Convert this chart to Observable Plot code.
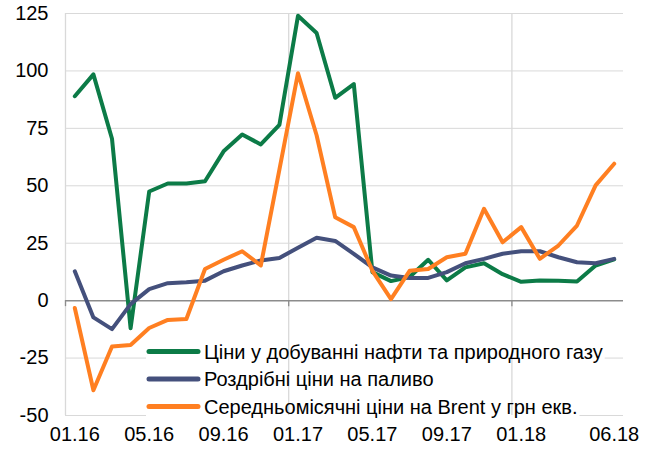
<!DOCTYPE html>
<html><head><meta charset="utf-8">
<script src="https://cdn.jsdelivr.net/npm/d3@7"></script>
<script src="https://cdn.jsdelivr.net/npm/@observablehq/plot@0.6"></script>
<style>
body{margin:0;background:#fff}
#chart{width:652px;height:450px}
</style>
</head><body><div id="chart"></div>
<script>
const months = ["01.16","02.16","03.16","04.16","05.16","06.16","07.16","08.16","09.16","10.16","11.16","12.16",
                "01.17","02.17","03.17","04.17","05.17","06.17","07.17","08.17","09.17","10.17","11.17","12.17",
                "01.18","02.18","03.18","04.18","05.18","06.18"];
const tickLabels = ["01.16","05.16","09.16","01.17","05.17","09.17","01.18","06.18"];
const yearStarts = ["01.16","01.17","01.18"];
const yTicks = [-50,-25,0,25,50,75,100,125];
const seriesNames = ["Ціни у добуванні нафти та природного газу","Роздрібні ціни на паливо","Середньомісячні ціни на Brent у грн екв."];
const gasPrices   = [89, 98.5, 70.5, -12, 47.5, 51, 51, 52, 65, 72.3, 68, 76.5, 124, 116.5, 88.3, 94.3, 12.4, 8.5, 10.3, 17.8, 8.8, 14.5, 16.3, 11.5, 8.2, 8.8, 8.7, 8.3, 15.3, 18];
const fuelPrices  = [12.8, -7.3, -12.4, -1.5, 5, 7.6, 8, 8.7, 12.8, 15.3, 17.5, 18.6, 23, 27.4, 26, 20.4, 14.5, 10.9, 9.9, 9.9, 12.4, 16.3, 18.2, 20.4, 21.5, 21.5, 18.9, 16.7, 16.3, 18.2];
const brentPrices = [-3.2, -39, -20, -19.3, -11.9, -8.4, -8, 13.8, 17.8, 21.5, 15.3, 57, 99, 72, 36.3, 32, 13, 0.7, 13, 13.8, 18.9, 20.4, 40, 25.4, 32, 18.2, 24, 32.7, 50.2, 59.6];
const colors = ["#0c7b47","#44507c","#ff7f21"];

const seriesValues = [gasPrices, fuelPrices, brentPrices];
const data = [];
seriesValues.forEach((vals, s) => vals.forEach((v, i) => data.push({i, name: seriesNames[s], value: v})));

const FONT = "Arial, 'Liberation Sans', sans-serif";
const FS = 20;
const legendRows = [351.5, 379, 406.5];
const legendX0 = 149, legendX1 = 198, legendTextX = 204;

function textWidth(t) {
  const c = document.createElement("canvas").getContext("2d");
  c.font = `${FS}px ${FONT}`;
  return c.measureText(t).width;
}

function legendBg() {
  const g = d3.create("svg:g");
  seriesNames.forEach((n, k) => {
    g.append("rect").attr("x", legendX0 - 3).attr("y", legendRows[k] - 13)
      .attr("width", legendTextX + textWidth(n) - legendX0 + 5).attr("height", 26).attr("fill", "white");
  });
  return g.node();
}
function legendFg() {
  const g = d3.create("svg:g");
  seriesNames.forEach((n, k) => {
    g.append("line").attr("x1", legendX0).attr("x2", legendX1).attr("y1", legendRows[k]).attr("y2", legendRows[k])
      .attr("stroke", colors[k]).attr("stroke-width", 5).attr("stroke-linecap", "round");
    g.append("text").attr("x", legendTextX).attr("y", legendRows[k]).attr("dy", "0.35em")
      .attr("text-anchor", "start")
      .attr("font-size", FS).attr("font-family", FONT).attr("fill", "#000").text(n);
  });
  return g.node();
}

const gridX = yearStarts.map(m => months.indexOf(m) - 0.5);

const chart = Plot.plot({
  width: 652, height: 450,
  marginLeft: 65, marginRight: 29, marginTop: 13, marginBottom: 35,
  style: {fontSize: FS + "px", fontFamily: FONT, color: "#000", background: "#fff"},
  x: {domain: [-0.5, months.length - 0.5], ticks: tickLabels.map(l => months.indexOf(l)), tickFormat: i => months[i], tickSize: 0, tickPadding: 11, label: null},
  y: {domain: [-50, 125], ticks: yTicks, tickFormat: d => String(d), tickSize: 0, tickPadding: 17, label: null},
  color: {domain: seriesNames, range: colors},
  marks: [
    Plot.ruleY(yTicks.filter(v => v !== 0), {stroke: "#d9d9d9", strokeWidth: 1}),
    legendBg,
    Plot.ruleX(gridX, {stroke: "#d9d9d9", strokeWidth: 1.3}),
    Plot.ruleY([0], {stroke: "#8c8c8c", strokeWidth: 1.5}),
    Plot.ruleX(gridX, {y1: 0, y2: 0, insetBottom: -6, stroke: "#8c8c8c", strokeWidth: 1.3}),
    Plot.line(data, {x: "i", y: "value", z: "name", stroke: "name", strokeWidth: 4, strokeLinejoin: "round", strokeLinecap: "round"}),
    legendFg
  ]
});
document.getElementById("chart").appendChild(chart);
</script>
</body></html>
